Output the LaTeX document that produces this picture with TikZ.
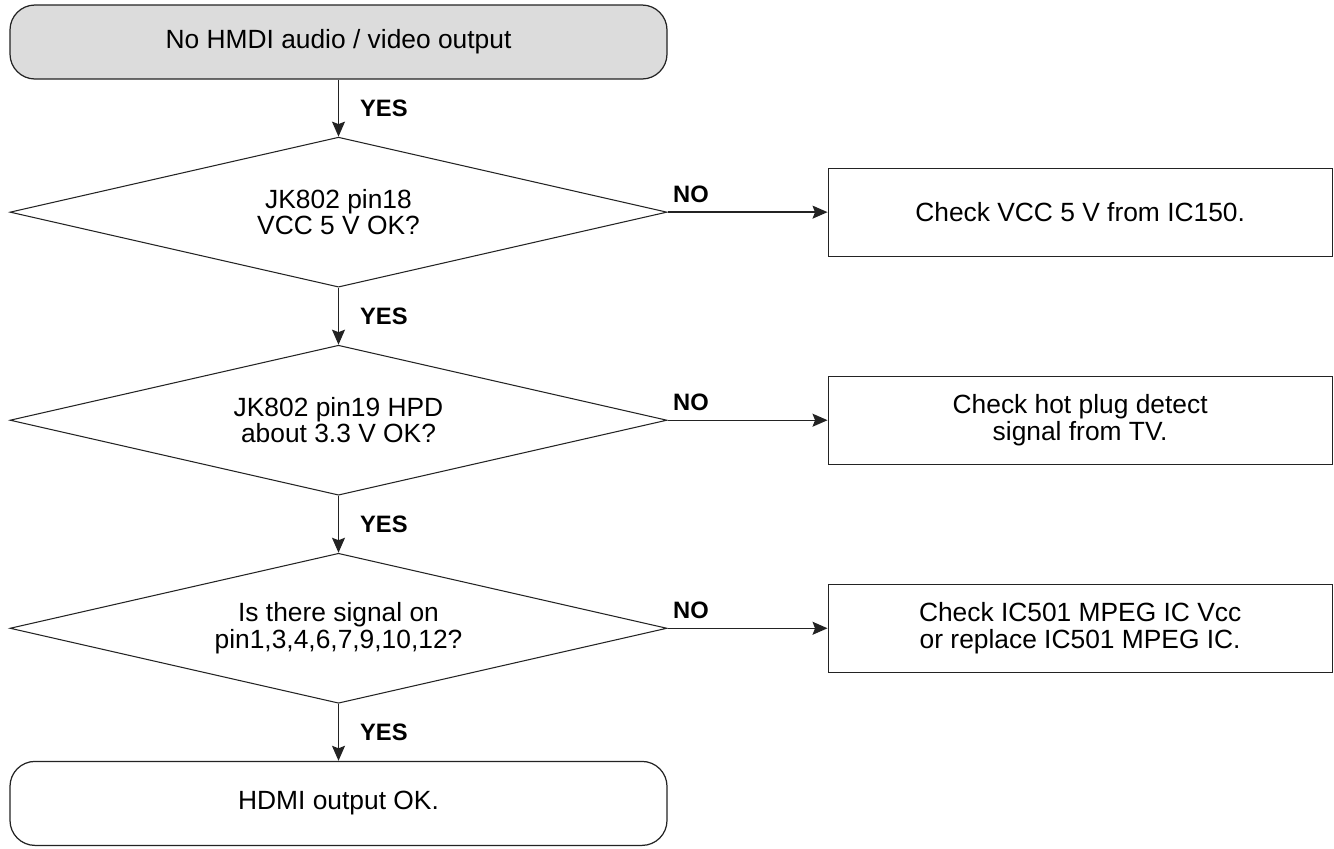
\documentclass[tikz,border=0pt]{standalone}
\usepackage{fontspec}
\setmainfont{Liberation Sans}
\usetikzlibrary{positioning}
\usetikzlibrary{arrows.meta}
\usetikzlibrary{shapes.geometric}
\definecolor{linegray}{RGB}{35,35,35}
\definecolor{startgray}{RGB}{220,220,220}

\begin{document}
\begin{tikzpicture}[node distance=1.14cm and 3.2cm,
    every node/.style={align=center, font=\fontsize{15}{15.2}\selectfont},
    term/.style={draw=linegray, line width=0.7pt, rounded corners=0.5cm, minimum width=13.14cm, inner sep=0pt},
    decision/.style={draw=linegray, line width=0.6pt, diamond, aspect=4.38, minimum width=13.14cm, minimum height=3cm, inner sep=0pt},
    action/.style={draw=linegray, line width=0.7pt, minimum width=10.08cm, minimum height=1.76cm, inner sep=0pt},
    flow/.style={draw=linegray, line width=0.75pt, -{Stealth[length=0.3cm, width=0.26cm, inset=0.05cm]}},
    yeslbl/.style={font=\fontsize{13.5}{14}\selectfont\bfseries, right=0.42cm, inner sep=0pt},
    nolbl/.style={font=\fontsize{13.5}{14}\selectfont\bfseries, pos=0, anchor=base west, xshift=0.1cm, yshift=0.2cm, inner sep=0pt}]
    \useasboundingbox (0,0) rectangle (26.68,-16.96);

    \node (start) [term, fill=startgray, minimum height=1.48cm] at (6.77,-0.84) {No HMDI audio / video output};
    \node (q1) [decision, below=of start] {JK802 pin18\\VCC 5 V OK?};
    \node (q2) [decision, below=of q1] {JK802 pin19 HPD\\about 3.3 V OK?};
    \node (q3) [decision, below=of q2] {Is there signal on\\pin1,3,4,6,7,9,10,12?};
    \node (done) [term, minimum height=1.68cm, below=of q3] {HDMI output OK.};

    \node (c1) [action, right=of q1] {Check VCC 5 V from IC150.};
    \node (c2) [action, right=of q2] {Check hot plug detect\\signal from TV.};
    \node (c3) [action, right=of q3] {Check IC501 MPEG IC Vcc\\or replace IC501 MPEG IC.};

    % yes branch
    \draw[flow] (start) -- node (y1) [yeslbl] {YES} (q1);
    \draw[flow] (q1) -- node (y2) [yeslbl] {YES} (q2);
    \draw[flow] (q2) -- node (y3) [yeslbl] {YES} (q3);
    \draw[flow] (q3) -- node (y4) [yeslbl] {YES} (done);

    % no branch
    \draw[flow] (q1) -- node (n1) [nolbl] {NO} (c1);
    \draw[flow] (q2) -- node (n2) [nolbl] {NO} (c2);
    \draw[flow] (q3) -- node (n3) [nolbl] {NO} (c3);
\end{tikzpicture}
\end{document}
